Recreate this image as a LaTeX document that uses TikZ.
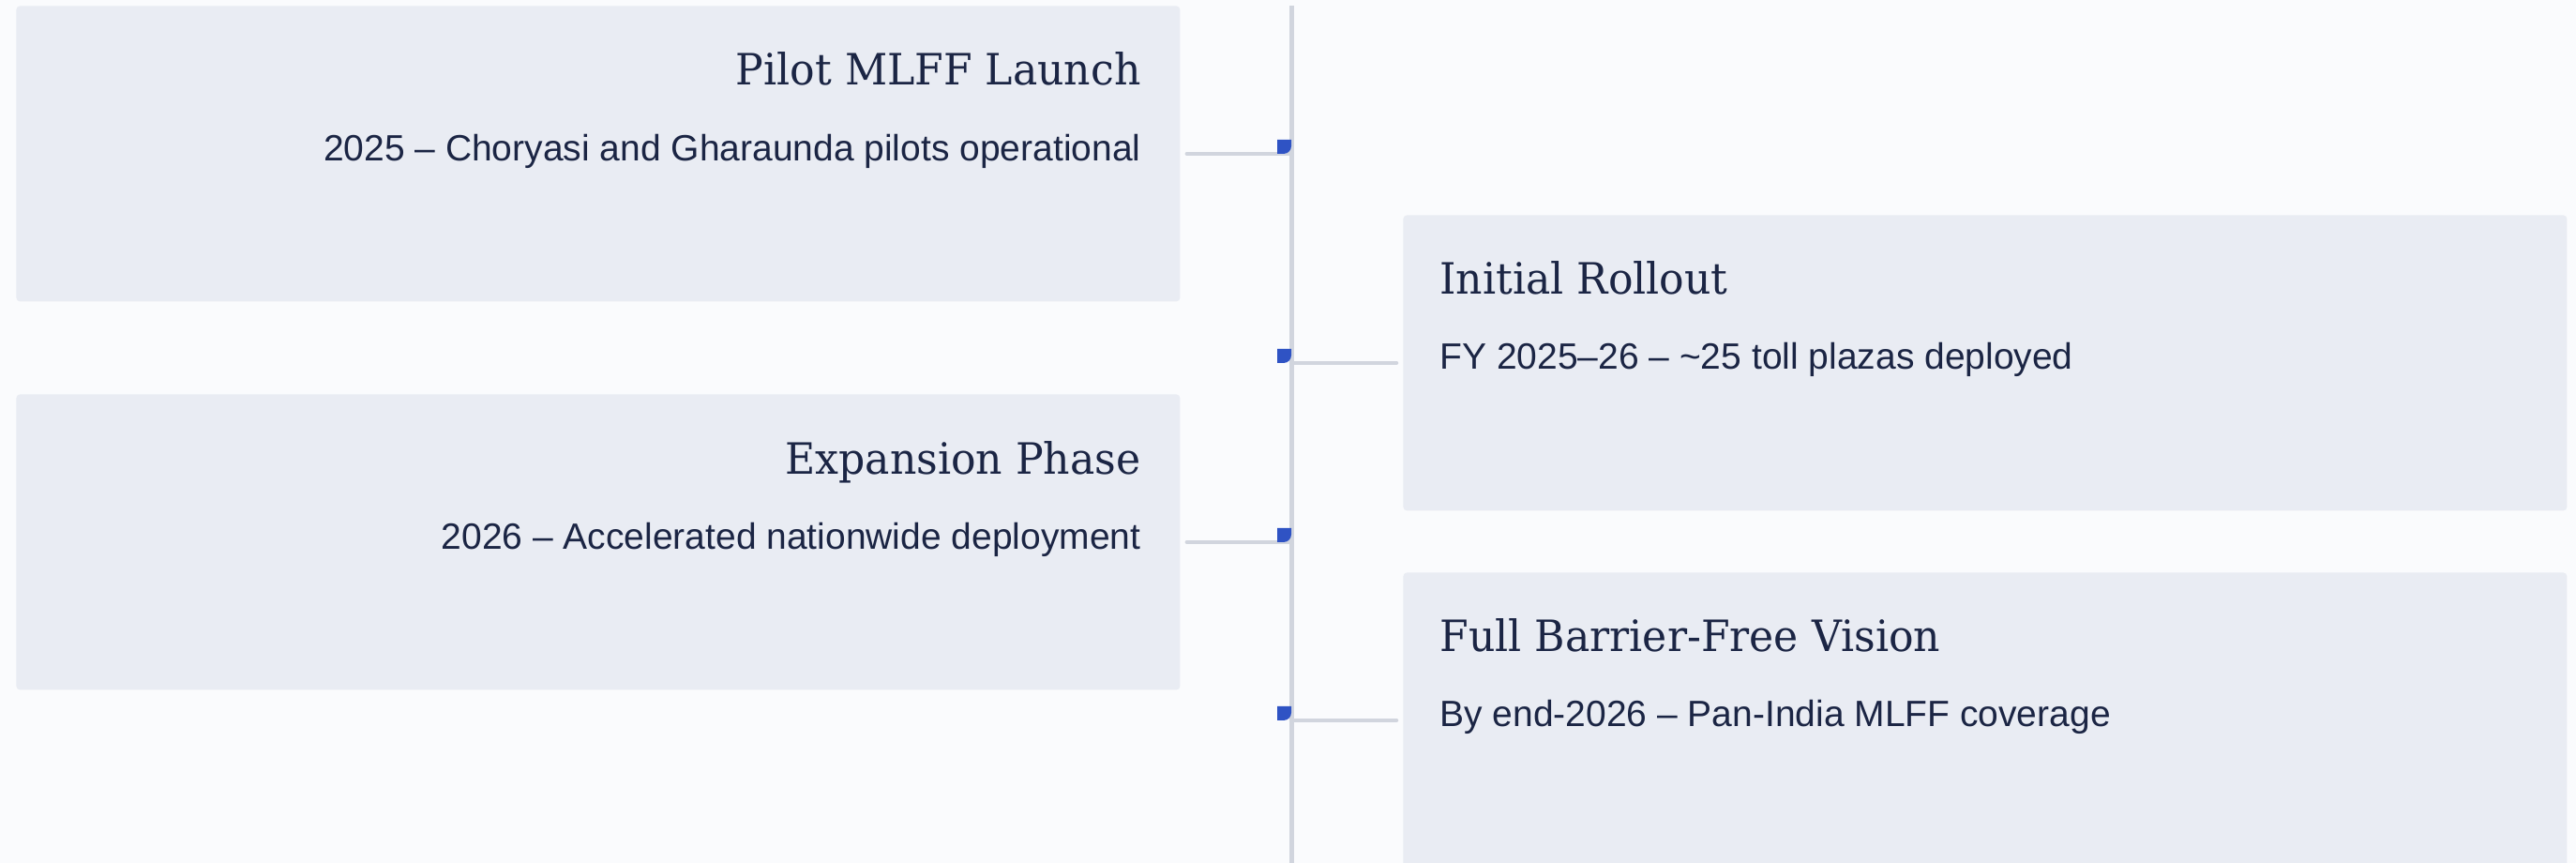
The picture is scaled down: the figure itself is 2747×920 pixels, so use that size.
\documentclass[tikz,border=0pt]{standalone}
\usepackage{fontspec}
\setmainfont{Liberation Sans}
\newfontfamily\slabfont[FakeStretch=0.96]{DejaVu Serif}
\definecolor{color_tl_bg}{HTML}{FAFBFD}
\definecolor{color_tl_box}{HTML}{E9ECF3}
\definecolor{color_tl_line}{HTML}{D1D5DE}
\definecolor{color_tl_text}{HTML}{1B2544}
\definecolor{color_tl_marker}{HTML}{2F53C4}
\def\tlboxwidth{620.5pt}
\def\tlboxheight{157.5pt}
\def\tlcornerradius{2pt}
\tikzset{
  tl_box/.style={fill=color_tl_box, rounded corners=\tlcornerradius, inner sep=0pt,
    minimum width=\tlboxwidth, minimum height=\tlboxheight},
  tl_title/.style={inner sep=0pt, text=color_tl_text, font=\slabfont\fontsize{23}{28}\selectfont},
  tl_text/.style={inner sep=0pt, text=color_tl_text, font=\fontsize{19.5}{24}\selectfont},
  tl_link/.style={draw=color_tl_line, line width=2.25pt, line cap=round},
  tl_spine/.style={draw=color_tl_line, line width=2.5pt},
}
\begin{document}
\begin{tikzpicture}[x=0.5pt,y=-0.5pt]
    \useasboundingbox (0,0) rectangle (2747,920);
    \fill[color_tl_bg] (0,0) rectangle (2747,920);
    % spine
    \coordinate (spine_top) at (1377,6);
    \coordinate (spine_bot) at (1377,920);
    \draw[tl_spine] (spine_top) -- (spine_bot);
    % phase boxes
    \node[tl_box, anchor=north west] (pilot) at (17,6) {};
    \node[tl_box, anchor=north west] (rollout) at (1496,229) {};
    \node[tl_box, anchor=north west] (expansion) at (17,420) {};
    \node[tl_box, anchor=north west] (vision) at (1496,610) {};
    % junctions on the spine, level with the box centres
    \coordinate (j1) at (pilot.east -| spine_top);
    \coordinate (j2) at (rollout.west -| spine_top);
    \coordinate (j3) at (expansion.east -| spine_top);
    \coordinate (j4) at (vision.west -| spine_top);
    % left side: right aligned text
    \node[tl_title, anchor=base east] (pilot_title) at (1217,91) {Pilot MLFF Launch};
    \node[tl_text, anchor=base east] (pilot_text) at (1217,171) {2025 – Choryasi and Gharaunda pilots operational};
    \node[tl_title, anchor=base east] (expansion_title) at (1217,505) {Expansion Phase};
    \node[tl_text, anchor=base east] (expansion_text) at (1217,585) {2026 – Accelerated nationwide deployment};
    % right side
    \node[tl_title, anchor=base west] (rollout_title) at (1535,313) {Initial Rollout};
    \node[tl_text, anchor=base west] (rollout_text) at (1535,393) {FY 2025–26 – \textasciitilde25 toll plazas deployed};
    \node[tl_title, anchor=base west] (vision_title) at (1535,694) {Full Barrier-Free Vision};
    \node[tl_text, anchor=base west] (vision_text) at (1535,774) {By end-2026 – Pan-India MLFF coverage};
    % connectors to the spine
    \draw[tl_link] ([xshift=3.5pt]pilot.east) -- (j1);
    \draw[tl_link] (j2) -- ([xshift=-3.5pt]rollout.west);
    \draw[tl_link] ([xshift=3.5pt]expansion.east) -- (j3);
    \draw[tl_link] (j4) -- ([xshift=-3.5pt]vision.west);
    % markers: square with one round corner, sitting above left of each junction
    \foreach \j in {j1,j2,j3,j4}
        \fill[color_tl_marker] (\j) ++(-15,-15) -- ++(15,0) -- ++(0,7) arc (0:90:8) -- ++(-7,0) -- cycle;
\end{tikzpicture}
\end{document}
